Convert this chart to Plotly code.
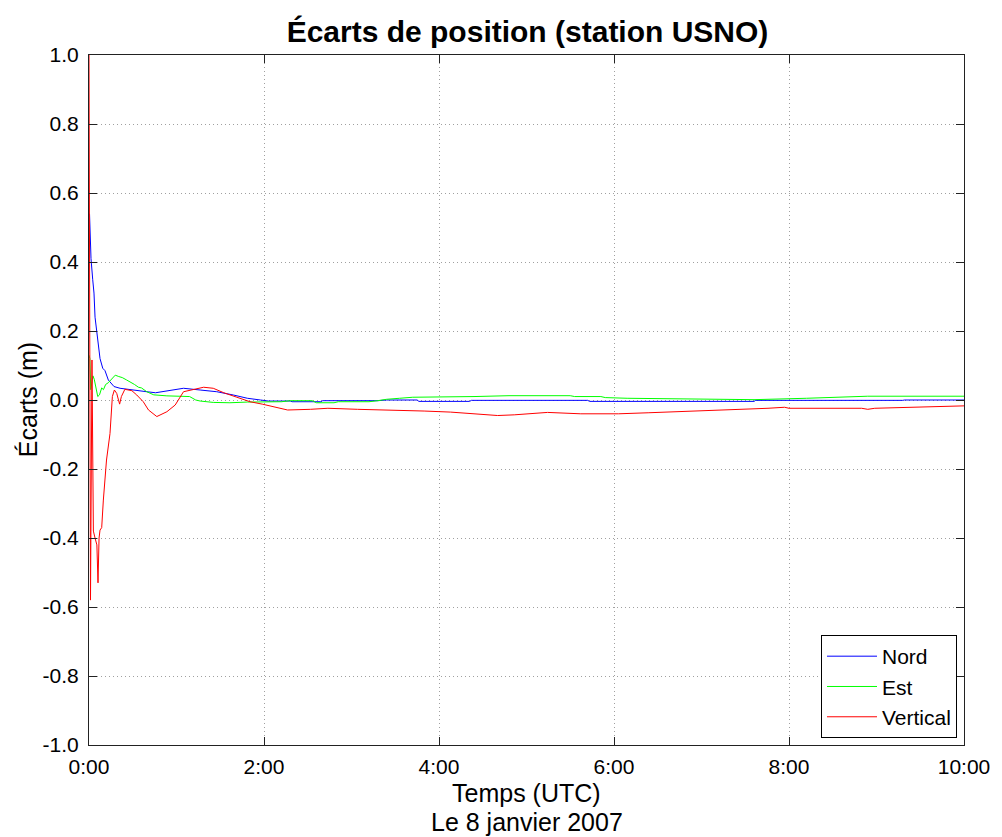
import plotly.graph_objects as go

# ---- Data (time in hours UTC, deviations in metres) ----
nord_t = [0.006, 0.023, 0.042, 0.057, 0.069, 0.088, 0.103, 0.126, 0.157, 0.183, 0.221, 0.252,
          0.286, 0.355, 0.47, 0.66, 0.76, 0.93, 1.08, 1.27, 1.46, 1.65, 1.81, 1.96, 2.05, 2.3,
          2.32, 2.65, 2.67, 3.3, 3.4, 3.75, 3.77, 4.35, 4.37, 5.7, 5.72, 7.6, 7.62, 9.3, 9.32, 10.0]
nord_v = [0.54, 0.41, 0.35, 0.31, 0.24, 0.20, 0.17, 0.12, 0.092, 0.085, 0.058, 0.05,
          0.039, 0.034, 0.031, 0.024, 0.021, 0.027, 0.034, 0.029, 0.024, 0.0145, 0.005, 0.0, -0.003, -0.003,
          -0.005, -0.005, -0.002, -0.002, 0.0, 0.0, -0.004, -0.004, -0.001, -0.001, -0.004, -0.004, -0.001, -0.001, 0.0, 0.0]

est_t = [0.0, 0.01, 0.02, 0.045, 0.06, 0.085, 0.1, 0.12, 0.145, 0.165, 0.19, 0.22, 0.26, 0.30,
         0.34, 0.38, 0.43, 0.47, 0.52, 0.565, 0.6, 0.66, 0.74, 0.89, 1.04, 1.15, 1.22, 1.27, 1.42,
         1.61, 1.81, 2.0, 2.2, 2.3, 2.55, 2.6, 2.8, 2.85, 3.2, 3.3, 3.4, 3.55, 3.7, 4.4, 4.8, 5.5,
         5.55, 5.85, 5.9, 6.15, 7.1, 7.6, 8.2, 8.6, 8.9, 10.0]
est_v = [0.13, 0.12, 0.03, 0.07, 0.06, 0.03, 0.01, 0.015, 0.035, 0.03, 0.045, 0.05, 0.06, 0.072,
         0.068, 0.065, 0.058, 0.053, 0.045, 0.037, 0.035, 0.024, 0.015, 0.012, 0.01, 0.01, 0.0, -0.003, -0.007,
         -0.008, -0.006, -0.005, -0.005, -0.002, -0.002, -0.008, -0.008, -0.005, -0.005, -0.002, 0.002, 0.005, 0.008, 0.01, 0.0125, 0.0125,
         0.01, 0.01, 0.007, 0.005, 0.002, 0.001, 0.005, 0.008, 0.011, 0.011]

vert_t = [0.0, 0.017, 0.034, 0.05, 0.069, 0.09, 0.103, 0.115, 0.126, 0.145, 0.164, 0.2, 0.24,
          0.267, 0.29, 0.317, 0.35, 0.37, 0.41, 0.49, 0.546, 0.58, 0.62, 0.68, 0.775, 0.89, 0.985,
          1.08, 1.19, 1.31, 1.42, 1.54, 1.69, 1.84, 1.98, 2.27, 2.53, 2.73, 3.07, 3.53, 3.83, 4.13,
          4.36, 4.67, 4.86, 5.09, 5.24, 5.62, 6.05, 6.39, 6.73, 7.0, 7.26, 7.53, 7.76, 7.95, 8.0,
          8.83, 8.9, 8.98, 9.33, 9.83, 10.0]
vert_v = [1.0, -0.58, 0.116, -0.38, -0.40, -0.42, -0.53, -0.40, -0.377, -0.37, -0.29, -0.174, -0.097,
          0.01, 0.029, 0.019, -0.012, 0.01, 0.031, 0.027, 0.0145, 0.005, -0.005, -0.029, -0.048, -0.034, -0.0145,
          0.024, 0.031, 0.037, 0.034, 0.021, 0.008, -0.005, -0.012, -0.029, -0.027, -0.024, -0.027, -0.029, -0.032, -0.035,
          -0.04, -0.045, -0.043, -0.039, -0.036, -0.04, -0.04, -0.037, -0.034, -0.031, -0.029, -0.027, -0.024, -0.021, -0.024,
          -0.024, -0.027, -0.024, -0.021, -0.018, -0.017]

x_tickvals = [0, 2, 4, 6, 8, 10]
x_ticktext = ["0:00", "2:00", "4:00", "6:00", "8:00", "10:00"]
y_tickvals = [-1.0, -0.8, -0.6, -0.4, -0.2, 0.0, 0.2, 0.4, 0.6, 0.8, 1.0]
y_ticktext = ["-1.0", "-0.8", "-0.6", "-0.4", "-0.2", "0.0", "0.2", "0.4", "0.6", "0.8", "1.0"]

FONT = "Liberation Sans, Arial, Helvetica, sans-serif"

fig = go.Figure()
fig.add_trace(go.Scatter(x=nord_t, y=nord_v, mode="lines", name="Nord",
                         line=dict(color="#0000FF", width=1)))
fig.add_trace(go.Scatter(x=est_t, y=est_v, mode="lines", name="Est",
                         line=dict(color="#00FF00", width=1)))
fig.add_trace(go.Scatter(x=vert_t, y=vert_v, mode="lines", name="Vertical",
                         line=dict(color="#FF0000", width=1)))

axis_common = dict(
    showline=True, linecolor="#222", linewidth=1, mirror="ticks",
    ticks="inside", ticklen=8, tickcolor="#222", tickwidth=1,
    showgrid=True, gridcolor="#a0a0a0", gridwidth=1, griddash="1px,3px",
    zeroline=False, tickfont=dict(family=FONT, size=21, color="black"),
)

fig.update_layout(
    width=1002, height=837,
    margin=dict(l=89, r=36, t=55, b=92),
    paper_bgcolor="white", plot_bgcolor="white",
    title=dict(text="<b>Écarts de position (station USNO)</b>",
               font=dict(family=FONT, size=30, color="black"),
               x=(89 + 966) / 2 / 1002, xanchor="center",
               y=1 - 31 / 837, yanchor="middle"),
    xaxis=dict(range=[0, 10], tickvals=x_tickvals, ticktext=x_ticktext,
               ticklabelstandoff=3, **axis_common),
    yaxis=dict(range=[-1, 1], tickvals=y_tickvals, ticktext=y_ticktext,
               ticklabelstandoff=5, **axis_common),
    showlegend=True,
    legend=dict(x=0.992, y=0.0101, xanchor="right", yanchor="bottom",
                bgcolor="white", bordercolor="black", borderwidth=1,
                font=dict(family=FONT, size=21, color="black"),
                itemwidth=50, tracegroupgap=0, entrywidth=130),
    annotations=[
        dict(text="Temps (UTC)", xref="paper", yref="paper", x=0.5, y=(745 - 793) / 690,
             xanchor="center", yanchor="middle", showarrow=False,
             font=dict(family=FONT, size=25, color="black")),
        dict(text="Le 8 janvier 2007", xref="paper", yref="paper", x=0.5, y=(745 - 822) / 690,
             xanchor="center", yanchor="middle", showarrow=False,
             font=dict(family=FONT, size=25, color="black")),
        dict(text="Écarts (m)", xref="paper", yref="paper", x=(28 - 89) / 877, y=0.5,
             xanchor="center", yanchor="middle", textangle=-90, showarrow=False,
             font=dict(family=FONT, size=25, color="black")),
    ],
)

fig.write_html("out.html")
